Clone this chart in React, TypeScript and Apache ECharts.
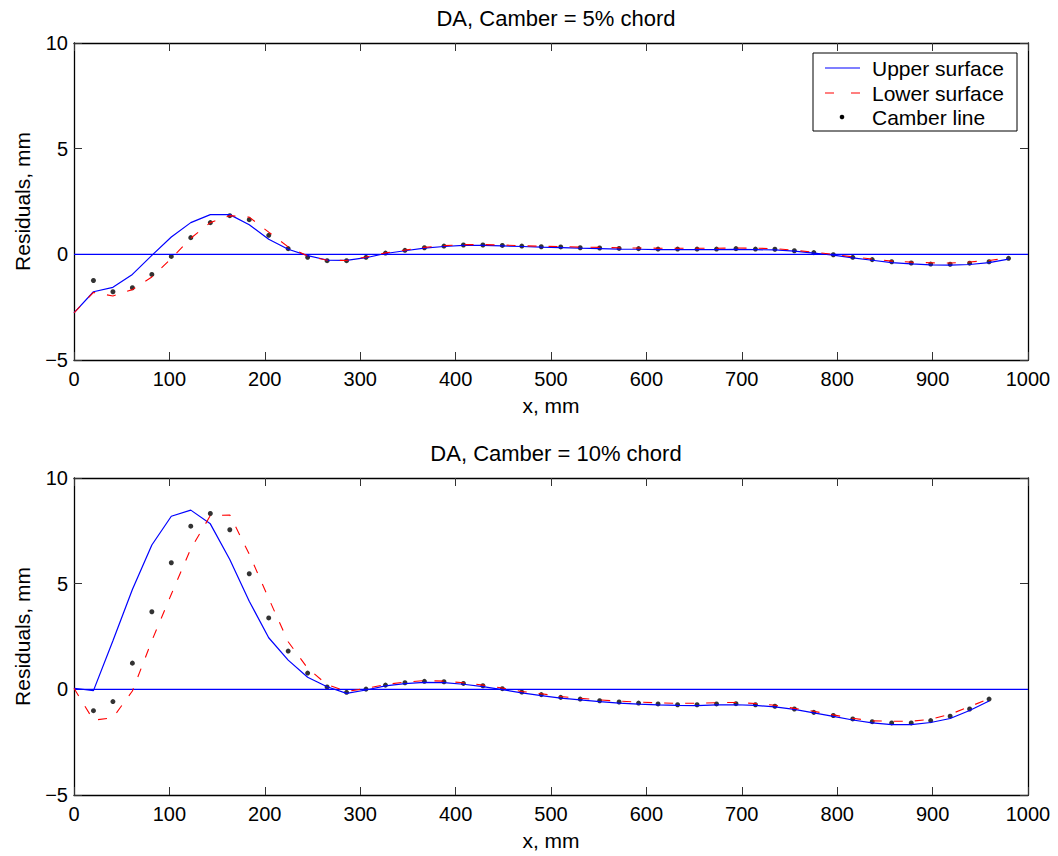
import React, { useEffect, useRef } from "react";
import * as echarts from "echarts";

// x positions (mm) of the sampled stations
const xStations = [
  0, 20.4, 40.8, 61.2, 81.6, 102.0, 122.4, 142.9, 163.3, 183.7, 204.1, 224.5, 244.9,
  265.3, 285.7, 306.1, 326.5, 346.9, 367.3, 387.8, 408.2, 428.6, 449.0, 469.4, 489.8,
  510.2, 530.6, 551.0, 571.4, 591.8, 612.2, 632.7, 653.1, 673.5, 693.9, 714.3, 734.7,
  755.1, 775.5, 795.9, 816.3, 836.7, 857.1, 877.6, 898.0, 918.4, 938.8, 959.2, 979.6,
];

// Top panel: camber = 5% chord (stations 0..48)
const upper5 = [
  -2.77, -1.77, -1.56, -0.95, -0.05, 0.82, 1.5, 1.88, 1.88, 1.4, 0.71, 0.24, -0.06,
  -0.27, -0.29, -0.16, 0.04, 0.17, 0.29, 0.37, 0.42, 0.42, 0.4, 0.37, 0.34,
  0.32, 0.29, 0.27, 0.25, 0.24, 0.22, 0.22, 0.22, 0.22, 0.23, 0.22, 0.21,
  0.15, 0.06, -0.04, -0.17, -0.28, -0.39, -0.45, -0.5, -0.51, -0.48, -0.39, -0.23,
];
const lower5 = [
  -2.77, -1.8, -1.97, -1.67, -1.07, -0.2, 0.76, 1.5, 1.83, 1.76, 1.05, 0.35, -0.08,
  -0.28, -0.29, -0.13, 0.07, 0.2, 0.33, 0.41, 0.46, 0.46, 0.44, 0.41, 0.38,
  0.37, 0.34, 0.33, 0.31, 0.3, 0.29, 0.29, 0.29, 0.29, 0.3, 0.29, 0.27,
  0.19, 0.1, 0.0, -0.12, -0.22, -0.32, -0.37, -0.4, -0.41, -0.36, -0.29, -0.17,
];
// camber dots start at station 1
const camber5 = [
  -1.24, -1.77, -1.58, -0.95, -0.1, 0.79, 1.5, 1.83, 1.64, 0.9, 0.27, -0.14,
  -0.3, -0.3, -0.14, 0.06, 0.19, 0.31, 0.39, 0.44, 0.44, 0.42, 0.39, 0.36,
  0.35, 0.31, 0.3, 0.28, 0.27, 0.25, 0.25, 0.25, 0.25, 0.27, 0.25, 0.24,
  0.17, 0.08, -0.02, -0.14, -0.25, -0.35, -0.41, -0.46, -0.47, -0.42, -0.35, -0.19,
];

// Bottom panel: camber = 10% chord (stations 0..47)
const upper10 = [
  0.05, -0.06, 2.3, 4.72, 6.83, 8.19, 8.48, 7.83, 6.14, 4.17, 2.44, 1.38, 0.57,
  0.12, -0.19, -0.03, 0.16, 0.27, 0.33, 0.32, 0.24, 0.13, -0.01, -0.17, -0.3,
  -0.42, -0.5, -0.58, -0.65, -0.7, -0.74, -0.76, -0.77, -0.74, -0.73, -0.76, -0.83,
  -0.95, -1.11, -1.28, -1.45, -1.59, -1.67, -1.67, -1.57, -1.38, -1.0, -0.55,
];
const lower10 = [
  0.05, -1.46, -1.34, -0.08, 2.3, 4.5, 6.65, 8.22, 8.25, 6.4, 4.3, 2.25, 1.0,
  0.22, -0.1, 0.04, 0.23, 0.34, 0.41, 0.39, 0.31, 0.2, 0.06, -0.1, -0.21,
  -0.34, -0.42, -0.5, -0.56, -0.6, -0.64, -0.66, -0.66, -0.63, -0.62, -0.67, -0.75,
  -0.9, -1.04, -1.21, -1.37, -1.49, -1.51, -1.51, -1.42, -1.18, -0.82, -0.44,
];
const camber10 = [
  -1.01, -0.58, 1.24, 3.67, 5.99, 7.72, 8.32, 7.55, 5.47, 3.38, 1.81, 0.77,
  0.11, -0.14, 0.01, 0.2, 0.31, 0.38, 0.36, 0.28, 0.17, 0.03, -0.13, -0.25,
  -0.38, -0.46, -0.54, -0.6, -0.65, -0.69, -0.73, -0.73, -0.69, -0.68, -0.73, -0.8,
  -0.93, -1.09, -1.24, -1.4, -1.53, -1.59, -1.59, -1.48, -1.27, -0.93, -0.46,
];

const titles = ["DA, Camber = 5% chord", "DA, Camber = 10% chord"];
const legendNames = ["Upper surface", "Lower surface", "Camber line"];
const zeroLine = [
  [0, 0],
  [1000, 0],
];

const FONT = "'Liberation Sans', Arial, Helvetica, sans-serif";
const BLUE = "#0000ff";
const RED = "#ff0000";
const TICK_FS = 20;
const NAME_FS = 21;
const TITLE_FS = 22;
const LEGEND_FS = 21;

function pairs(xs: number[], ys: number[], offset = 0) {
  return ys.map((y, i) => [xs[i + offset], y]);
}

export default function App() {
  const ref = useRef<HTMLDivElement>(null);

  useEffect(() => {
    document.body.style.margin = "0";
    if (!ref.current) return;
    const chart = echarts.init(ref.current, null, { renderer: "svg" });

    const grids = [
      { left: 74, right: 30, top: 43, height: 317 },
      { left: 74, right: 30, top: 478, height: 317 },
    ];

    const numFmt = (v: number) => String(v).replace("-", "\u2212");
    const lineCol = { color: "#000", width: 1.3 };
    const tick = { show: true, inside: true, length: 8, lineStyle: { color: "#333", width: 1 } };

    const xAxes: any[] = [];
    const yAxes: any[] = [];
    [0, 1].forEach((g) => {
      xAxes.push({
        type: "value",
        gridIndex: g,
        position: "bottom",
        min: 0,
        max: 1000,
        interval: 100,
        name: "x, mm",
        nameLocation: "middle",
        nameGap: 35,
        nameTextStyle: { color: "#000", fontSize: NAME_FS, fontFamily: FONT },
        axisLine: { show: true, onZero: false, lineStyle: lineCol },
        axisTick: tick,
        axisLabel: { color: "#000", fontSize: TICK_FS, fontFamily: FONT, margin: 9, formatter: numFmt },
        splitLine: { show: false },
      });
      xAxes.push({
        type: "value",
        gridIndex: g,
        position: "top",
        min: 0,
        max: 1000,
        interval: 100,
        axisLine: { show: true, onZero: false, lineStyle: lineCol },
        axisTick: tick,
        axisLabel: { show: false },
        splitLine: { show: false },
      });
      yAxes.push({
        type: "value",
        gridIndex: g,
        position: "left",
        min: -5,
        max: 10,
        interval: 5,
        name: "Residuals, mm",
        nameLocation: "middle",
        nameGap: 41,
        nameTextStyle: { color: "#000", fontSize: NAME_FS, fontFamily: FONT },
        axisLine: { show: true, onZero: false, lineStyle: lineCol },
        axisTick: tick,
        axisLabel: { color: "#000", fontSize: TICK_FS, fontFamily: FONT, margin: 6, formatter: numFmt },
        splitLine: { show: false },
      });
      yAxes.push({
        type: "value",
        gridIndex: g,
        position: "right",
        min: -5,
        max: 10,
        interval: 5,
        axisLine: { show: true, onZero: false, lineStyle: lineCol },
        axisTick: tick,
        axisLabel: { show: false },
        splitLine: { show: false },
      });
    });

    const panels = [
      { up: upper5, lo: lower5, cam: camber5 },
      { up: upper10, lo: lower10, cam: camber10 },
    ];

    const series: any[] = [];
    panels.forEach((p, g) => {
      const xi = g * 2;
      const yi = g * 2;
      series.push({
        type: "line",
        xAxisIndex: xi,
        yAxisIndex: yi,
        data: zeroLine,
        symbol: "none",
        silent: true,
        lineStyle: { color: BLUE, width: 1.2 },
      });
      series.push({
        name: legendNames[0],
        type: "line",
        xAxisIndex: xi,
        yAxisIndex: yi,
        data: pairs(xStations, p.up),
        symbol: "none",
        lineStyle: { color: BLUE, width: 1.2 },
      });
      series.push({
        name: legendNames[1],
        type: "line",
        xAxisIndex: xi,
        yAxisIndex: yi,
        data: pairs(xStations, p.lo),
        symbol: "none",
        lineStyle: { color: RED, width: 1.1, type: [9, 12] },
      });
      series.push({
        name: legendNames[2],
        type: "scatter",
        xAxisIndex: xi,
        yAxisIndex: yi,
        data: pairs(xStations, p.cam, 1),
        symbol: "circle",
        symbolSize: 5,
        itemStyle: { color: "#000" },
      });
    });

    const lx = 813;
    const ly = 53;
    const graphic: any[] = [
      {
        type: "rect",
        shape: { x: lx, y: ly, width: 204, height: 78 },
        style: { fill: "#fff", stroke: "#000", lineWidth: 1 },
        z: 100,
      },
      {
        type: "line",
        shape: { x1: 825, y1: 68, x2: 860, y2: 68 },
        style: { stroke: BLUE, lineWidth: 1.2 },
        z: 101,
      },
      {
        type: "line",
        shape: { x1: 825, y1: 93, x2: 860, y2: 93 },
        style: { stroke: RED, lineWidth: 1.2, lineDash: [9, 17] },
        z: 101,
      },
      {
        type: "circle",
        shape: { cx: 842, cy: 117, r: 2.3 },
        style: { fill: "#000" },
        z: 101,
      },
    ];
    legendNames.forEach((n, i) => {
      graphic.push({
        type: "text",
        x: 872,
        y: [68, 93, 117][i],
        style: {
          text: n,
          fill: "#000",
          fontSize: LEGEND_FS,
          fontFamily: FONT,
          textAlign: "left",
          textVerticalAlign: "middle",
        },
        z: 101,
      });
    });

    chart.setOption({
      animation: false,
      backgroundColor: "#fff",
      title: [
        {
          text: titles[0],
          left: 551,
          top: 2,
          textAlign: "center",
          textStyle: { color: "#000", fontSize: TITLE_FS, fontWeight: "normal", fontFamily: FONT },
        },
        {
          text: titles[1],
          left: 551,
          top: 437,
          textAlign: "center",
          textStyle: { color: "#000", fontSize: TITLE_FS, fontWeight: "normal", fontFamily: FONT },
        },
      ],
      grid: grids,
      xAxis: xAxes,
      yAxis: yAxes,
      series,
      graphic,
    });

    return () => {
      chart.dispose();
    };
  }, []);

  return <div ref={ref} style={{ width: 1058, height: 856 }} />;
}
